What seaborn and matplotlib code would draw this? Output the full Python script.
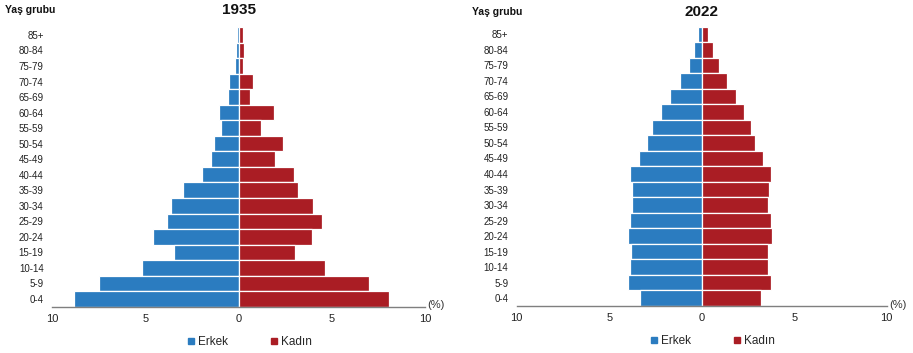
import matplotlib
matplotlib.use("Agg")
import matplotlib.pyplot as plt
from matplotlib.lines import Line2D
import seaborn as sns
import pandas as pd

# Age groups, youngest first
age_groups = ["0-4", "5-9", "10-14", "15-19", "20-24", "25-29", "30-34", "35-39",
              "40-44", "45-49", "50-54", "55-59", "60-64", "65-69", "70-74",
              "75-79", "80-84", "85+"]

# Share of total population (%), 1935
male_1935 = [8.84, 7.46, 5.20, 3.44, 4.59, 3.84, 3.60, 2.98, 1.95, 1.45,
             1.34, 0.94, 1.05, 0.55, 0.50, 0.18, 0.12, 0.07]
female_1935 = [8.06, 7.00, 4.64, 3.04, 3.96, 4.47, 4.02, 3.20, 2.98, 1.98,
               2.38, 1.22, 1.88, 0.64, 0.77, 0.23, 0.32, 0.23]

# Share of total population (%), 2022
male_2022 = [3.36, 3.97, 3.86, 3.80, 3.97, 3.86, 3.75, 3.75, 3.86, 3.37,
             2.98, 2.69, 2.18, 1.73, 1.19, 0.68, 0.40, 0.18]
female_2022 = [3.18, 3.72, 3.61, 3.56, 3.79, 3.72, 3.61, 3.66, 3.77, 3.32,
               2.89, 2.67, 2.27, 1.88, 1.38, 0.94, 0.60, 0.33]

years = ["1935", "2022"]
sexes = ["Erkek", "Kadın"]
x_ticks = [-10, -5, 0, 5, 10]
x_tick_labels = ["10", "5", "0", "5", "10"]

BLUE = "#2b7cc0"
RED = "#aa1d24"
palette = {"Erkek": BLUE, "Kadın": RED}

sns.set_theme(style="white")
plt.rcParams["font.family"] = ["Liberation Sans", "DejaVu Sans"]


def long_table(male, female):
    rows = []
    for g, m, f in zip(age_groups, male, female):
        rows.append({"age": g, "sex": "Erkek", "value": -m})
        rows.append({"age": g, "sex": "Kadın", "value": f})
    return pd.DataFrame(rows)


fig = plt.figure(figsize=(9.13, 3.53), dpi=100)
axes_boxes = [
    [52 / 913, 46.3 / 353, 373 / 913, 279.5 / 353],
    [516.7 / 913, 47 / 353, 370 / 913, 279.5 / 353],
]
datasets = [(male_1935, female_1935), (male_2022, female_2022)]

for i, (box, (male, female), year) in enumerate(zip(axes_boxes, datasets, years)):
    ax = fig.add_axes(box)
    df = long_table(male, female)
    sns.barplot(data=df, y="age", x="value", hue="sex", order=age_groups[::-1],
                hue_order=sexes, palette=palette, saturation=1, dodge=False,
                width=1.0, edgecolor="white", linewidth=0.9, orient="h", ax=ax,
                legend=False)
    ax.set_xlim(-10, 10)
    ax.set_ylim(len(age_groups) - 0.5, -0.5)
    ax.set_xticks(x_ticks)
    ax.set_xticklabels(x_tick_labels)
    ax.set_xlabel("")
    ax.set_ylabel("")
    for side in ["top", "right", "left"]:
        ax.spines[side].set_visible(False)
    ax.spines["bottom"].set_color("#7f7f7f")
    ax.spines["bottom"].set_linewidth(1.0)
    ax.tick_params(axis="x", direction="in", length=3, width=1.0,
                   color="#7f7f7f", labelsize=8, labelcolor="#222222", pad=5)
    ax.tick_params(axis="y", length=0, labelsize=7, labelcolor="#222222", pad=6)

    # Title and axis captions
    title_x = box[0] + box[2] / 2
    fig.text(title_x, 1 - (10 + 2 * i) / 353, year, ha="center", va="center",
             fontsize=11, fontweight="bold", color="#111111")
    fig.text((5 + 467 * i) / 913, 1 - (10 + 2 * i) / 353, "Yaş grubu",
             ha="left", va="center", fontsize=7.5, fontweight="bold",
             color="#111111")
    ax.text(1.03, 0.005, "(%)", transform=ax.transAxes, ha="center",
            va="center", fontsize=8, color="#333333")

    handles = [Line2D([], [], marker="s", linestyle="", markersize=4.5,
                      color=palette[s]) for s in sexes]
    ax.legend(handles, sexes, loc="center", bbox_to_anchor=(0.53, -0.125),
              ncol=2, frameon=False, fontsize=8.5, handlelength=0.6,
              handletextpad=0.3, columnspacing=3.6, borderaxespad=0)

fig.savefig("out.png", dpi=100)
